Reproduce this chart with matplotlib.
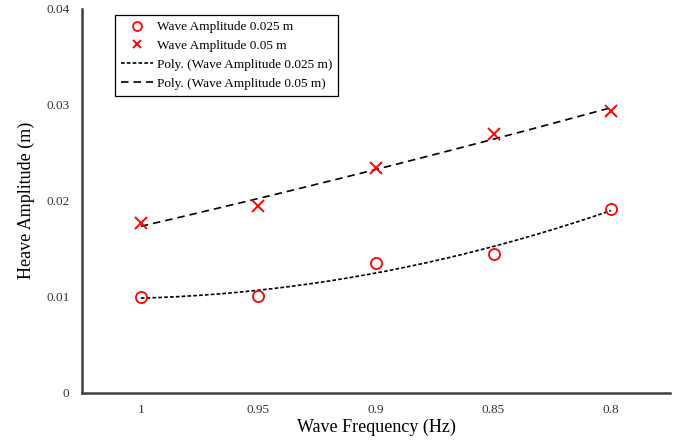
import numpy as np
import matplotlib.pyplot as plt
from matplotlib.ticker import FixedLocator, FuncFormatter

# Wave frequency categories (plotted in this order, as in the source chart)
freq_labels = ['1', '0.95', '0.9', '0.85', '0.8']

# Heave amplitude (m)
heave_0025 = [0.0100, 0.0101, 0.0135, 0.0145, 0.0192]
heave_005 = [0.0177, 0.0195, 0.0234, 0.0270, 0.0294]

yticks = [0, 0.01, 0.02, 0.03, 0.04]

plt.rcParams['font.family'] = ['Liberation Serif', 'DejaVu Serif']

x = np.arange(1, len(freq_labels) + 1)

fig = plt.figure(figsize=(6.78, 4.40), dpi=100)
ax = fig.add_axes([0.121, 0.107, 0.867, 0.873])

# 2nd order polynomial trendlines (like Excel "Poly." trendlines)
xs = np.linspace(1, len(freq_labels), 200)
fit1 = np.polyval(np.polyfit(x, heave_0025, 2), xs)
fit2 = np.polyval(np.polyfit(x, heave_005, 2), xs)

ax.plot(x, heave_0025, 'o', ms=8, mfc='none', mec='#ff0000', mew=1.3,
        label='Wave Amplitude 0.025 m', zorder=3)
ax.plot(x, heave_005, 'x', ms=8, mec='#ff0000', mew=1.4,
        label='Wave Amplitude 0.05 m', zorder=3)
ax.plot(xs, fit1, color='black', lw=1.2, dashes=(2.2, 1.3),
        label='Poly. (Wave Amplitude 0.025 m)')
ax.plot(xs, fit2, color='black', lw=1.2, dashes=(4.5, 3),
        label='Poly. (Wave Amplitude 0.05 m)')

ax.set_xlim(0.5, len(freq_labels) + 0.5)
ax.set_ylim(0, 0.04)
ax.set_xticks(x)
ax.set_xticklabels(freq_labels)
ax.yaxis.set_major_locator(FixedLocator(yticks))
ax.yaxis.set_major_formatter(FuncFormatter(lambda v, p: '0' if v == 0 else f'{v:g}'))
ax.tick_params(length=0, labelsize=9.5, colors='#333333')
ax.tick_params(axis='x', pad=8)
ax.tick_params(axis='y', pad=9)

for s in ['top', 'right']:
    ax.spines[s].set_visible(False)
for s in ['left', 'bottom']:
    ax.spines[s].set_color('#404040')
    ax.spines[s].set_linewidth(1.8)

ax.set_xlabel('Wave Frequency (Hz)', fontsize=13, labelpad=2)
ax.set_ylabel('Heave Amplitude (m)', fontsize=13, labelpad=8)

leg = ax.legend(loc='upper left', bbox_to_anchor=(0.056, 0.984), fontsize=9.5,
                fancybox=False, edgecolor='black', framealpha=1,
                handlelength=2.4, borderpad=0.45, labelspacing=0.5,
                handletextpad=0.3, borderaxespad=0, markerscale=0.8)
leg.get_frame().set_linewidth(0.9)

fig.savefig('out.png', dpi=100)
